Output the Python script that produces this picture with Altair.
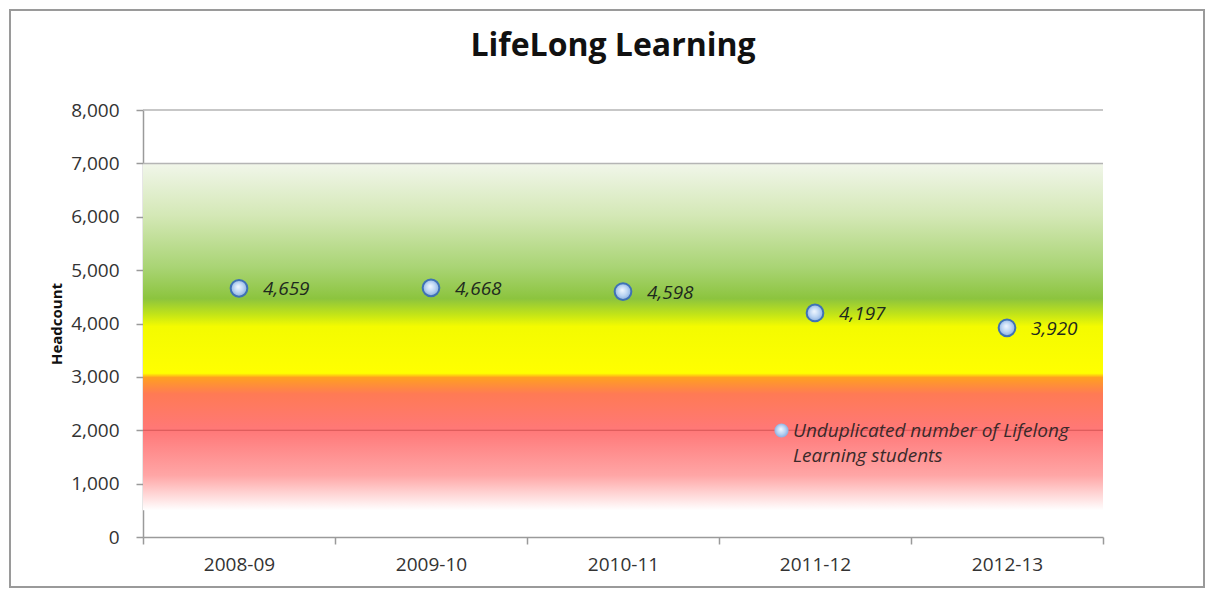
import altair as alt
import pandas as pd

# ---- data ----
years = ["2008-09", "2009-10", "2010-11", "2011-12", "2012-13"]
headcount = [4659, 4668, 4598, 4197, 3920]
series_name = "Unduplicated number of Lifelong\nLearning students"
y_ticks = [0, 1000, 2000, 3000, 4000, 5000, 6000, 7000, 8000]
zone_top = [7000]
zone_bottom = [500]
grid_gray = [7000, 8000]
grid_red = [2000]
title_text = ["LifeLong Learning"]

df = pd.DataFrame({"year": years, "headcount": headcount, "series": [series_name] * len(years)})
zone = pd.DataFrame({"top": zone_top, "bottom": zone_bottom})
g_gray = pd.DataFrame({"v": grid_gray})
g_red = pd.DataFrame({"v": grid_red})
ttl = pd.DataFrame({"t": title_text})

FONT = "Open Sans"

yscale = alt.Scale(domain=[0, 8000], nice=False, zero=True)
xenc = alt.X(
    "year:N",
    sort=years,
    scale=alt.Scale(domain=years, paddingInner=0, paddingOuter=0),
    axis=alt.Axis(
        title=None, tickBand="extent", labelAngle=0, labelFont=FONT, labelFontSize=19,
        labelColor="#333333", domainColor="#9a9a9a", domainWidth=1.5, tickColor="#9a9a9a",
        tickWidth=1.5, tickSize=7, labelPadding=11, grid=False,
    ),
)

zone_grad = alt.LinearGradient(
    gradient="linear", x1=0, x2=0, y1=0, y2=1,
    stops=[
        alt.GradientStop(color="#f1f6ea", offset=0.0),
        alt.GradientStop(color="#d4e8b6", offset=0.15),
        alt.GradientStop(color="#a9d474", offset=0.30),
        alt.GradientStop(color="#8cc43e", offset=0.39),
        alt.GradientStop(color="#c2e418", offset=0.435),
        alt.GradientStop(color="#f4fb00", offset=0.47),
        alt.GradientStop(color="#ffff00", offset=0.605),
        alt.GradientStop(color="#ffa020", offset=0.617),
        alt.GradientStop(color="#ff7a55", offset=0.665),
        alt.GradientStop(color="#ff7878", offset=0.77),
        alt.GradientStop(color="#ffa6a6", offset=0.90),
        alt.GradientStop(color="#ffffff", offset=1.0),
    ],
)

zone_layer = alt.Chart(zone).mark_rect(fill=zone_grad).encode(
    y=alt.Y("top:Q", scale=yscale, axis=alt.Axis(
        title="Headcount", values=y_ticks, format=",.0f", grid=False,
        labelFont=FONT, labelFontSize=19, labelColor="#333333",
        domainColor="#9a9a9a", domainWidth=1.5, tickColor="#9a9a9a", tickWidth=1.5,
        tickSize=7, labelPadding=17, titleFont=FONT, titleFontSize=15,
        titleFontWeight="bold", titleColor="#111111", titlePadding=6,
    )),
    y2="bottom:Q",
)

gray_rules = alt.Chart(g_gray).mark_rule(color="#b5b5b5", strokeWidth=1.5).encode(
    y=alt.Y("v:Q", scale=yscale)
)
red_rules = alt.Chart(g_red).mark_rule(color="#b83c3c", strokeWidth=1.2, opacity=0.6).encode(
    y=alt.Y("v:Q", scale=yscale)
)

point_grad = alt.RadialGradient(
    gradient="radial", x1=0.45, y1=0.4, r1=0.0, x2=0.5, y2=0.5, r2=0.55,
    stops=[
        alt.GradientStop(color="#f2f8ff", offset=0.0),
        alt.GradientStop(color="#b9d3f2", offset=0.55),
        alt.GradientStop(color="#7fa6dc", offset=1.0),
    ],
)

points = alt.Chart(df).mark_point(
    filled=True, fill=point_grad, stroke="#3f72b5", strokeWidth=2, size=280, opacity=1
).encode(
    x=xenc,
    y=alt.Y("headcount:Q", scale=yscale),
    shape=alt.Shape(
        "series:N",
        scale=alt.Scale(range=["circle"]),
        legend=alt.Legend(
            title=None, orient="none", legendX=629, legendY=311,
            symbolType="circle", symbolSize=200, symbolFillColor="#a9c7ee",
            symbolStrokeColor="#3f72b5", symbolStrokeWidth=2,
            labelFont=FONT, labelFontSize=19,
            labelFontStyle="italic", labelColor="#3a2a2a", labelLimit=400,
            labelExpr="split(datum.label, '\\n')", labelBaseline="middle",
            labelOffset=2, padding=0,
        ),
    ),
)

labels = alt.Chart(df).mark_text(
    align="left", baseline="middle", dx=24, dy=1, font=FONT, fontSize=19,
    fontStyle="italic", color="#1e2a1e",
).encode(
    x=xenc,
    y=alt.Y("headcount:Q", scale=yscale),
    text=alt.Text("headcount:Q", format=","),
)

title = alt.Chart(ttl).mark_text(
    font=FONT, fontSize=32, fontWeight="bold", color="#111111",
    align="center", baseline="middle",
).encode(
    text="t:N", x=alt.value(470), y=alt.value(-64)
)

frame = alt.Chart(ttl).mark_rect(
    fill="transparent", stroke="#9a9a9a", strokeWidth=2
).encode(
    x=alt.value(-133), x2=alt.value(1061), y=alt.value(-100), y2=alt.value(477)
)

chart = alt.layer(zone_layer, gray_rules, red_rules, points, labels, title, frame).properties(
    width=960, height=427,
    autosize=alt.AutoSizeParams(type="none"),
    padding={"left": 135, "top": 102, "right": 102, "bottom": 52},
).configure(
    background="white", style={"guide-label": {"lineHeight": 25}}
).configure_view(stroke=None)

chart.save("out.html", embed_options={"renderer": "svg", "actions": False})
